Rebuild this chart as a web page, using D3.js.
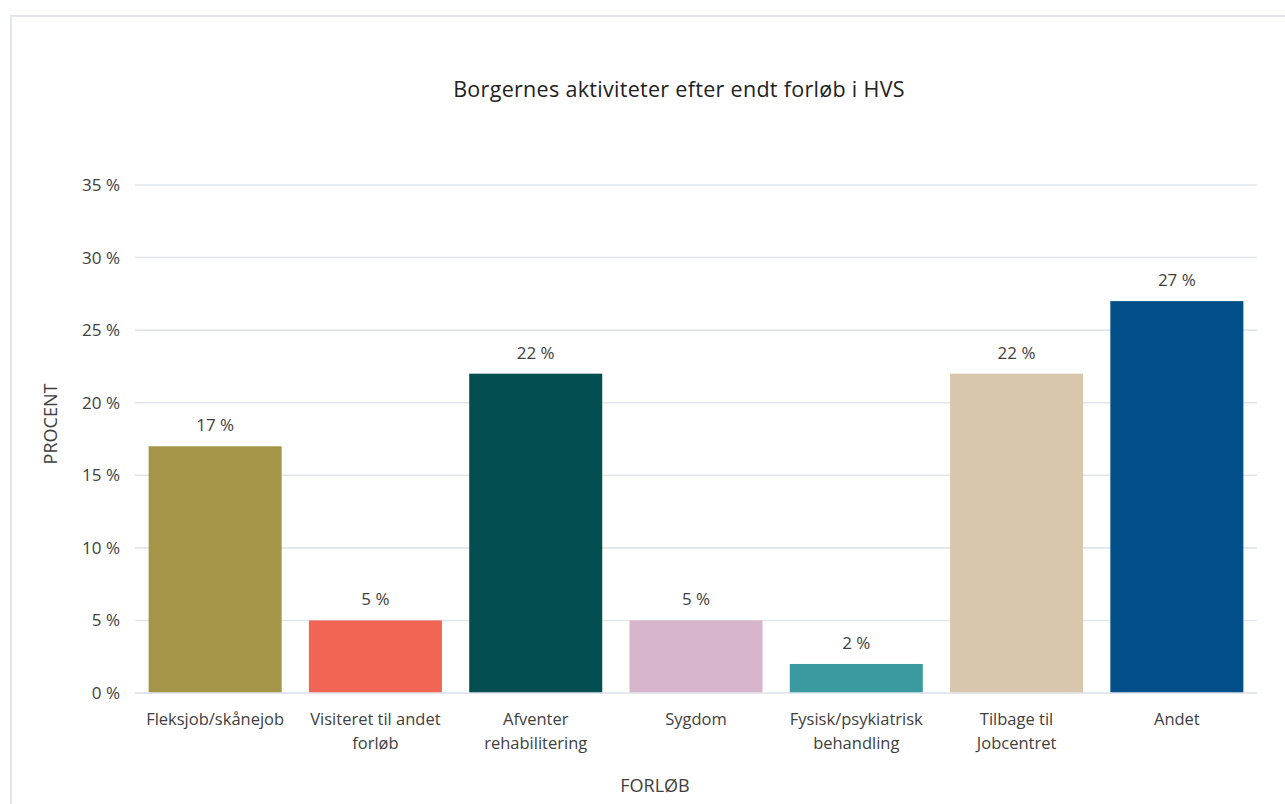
<!DOCTYPE html>
<html>
<head>
<meta charset="utf-8">
<script src="https://cdn.jsdelivr.net/npm/d3@7"></script>
<style>
  html, body { margin: 0; padding: 0; background: #ffffff; }
  svg { display: block; font-family: "Open Sans", "Noto Sans", sans-serif; }
</style>
</head>
<body>
<svg id="chart" width="1285" height="804"></svg>
<script>
const title = "Borgernes aktiviteter efter endt forløb i HVS";
const categories = [
  ["Fleksjob/skånejob"],
  ["Visiteret til andet", "forløb"],
  ["Afventer", "rehabilitering"],
  ["Sygdom"],
  ["Fysisk/psykiatrisk", "behandling"],
  ["Tilbage til", "Jobcentret"],
  ["Andet"]
];
const values = [17, 5, 22, 5, 2, 22, 27];
const colors = ["#a59548", "#f26555", "#034e50", "#d7b6cb", "#3a9aa0", "#d8c7ac", "#034f8a"];
const yTicks = [0, 5, 10, 15, 20, 25, 30, 35];
const yAxisTitle = "PROCENT";
const xAxisTitle = "FORLØB";

const svg = d3.select("#chart");
const W = 1285, H = 804;
const plot = { left: 135, right: 1257, top: 185, bottom: 693 };

// frame
svg.append("rect")
  .attr("x", 11).attr("y", 16)
  .attr("width", W + 20).attr("height", H + 20)
  .attr("fill", "#ffffff")
  .attr("stroke", "#e3e6ee").attr("stroke-width", 2);

const keys = categories.map((c, i) => i);
const x = d3.scaleBand().domain(keys)
  .range([plot.left, plot.right])
  .paddingInner(0.17).paddingOuter(0.085);
const y = d3.scaleLinear().domain([0, 35]).range([plot.bottom, plot.top]);

// gridlines
svg.append("g").selectAll("line").data(yTicks).join("line")
  .attr("x1", plot.left).attr("x2", plot.right)
  .attr("y1", d => y(d)).attr("y2", d => y(d))
  .attr("stroke", "#e2e6ec").attr("stroke-width", 1.6);

// y tick labels
svg.append("g").selectAll("text").data(yTicks).join("text")
  .attr("x", 120).attr("y", d => y(d))
  .attr("dy", "0.35em")
  .attr("text-anchor", "end")
  .attr("font-size", 17).attr("fill", "#404040")
  .text(d => d + " %");

// bars
svg.append("g").selectAll("rect").data(values).join("rect")
  .attr("x", (d, i) => x(i))
  .attr("width", x.bandwidth())
  .attr("y", d => y(d))
  .attr("height", d => y(0) - y(d))
  .attr("fill", (d, i) => colors[i]);

// baseline redraw over bars
svg.append("line")
  .attr("x1", plot.left).attr("x2", plot.right)
  .attr("y1", y(0)).attr("y2", y(0))
  .attr("stroke", "#e2e6ec").attr("stroke-width", 1.6);

// value labels
svg.append("g").selectAll("text").data(values).join("text")
  .attr("x", (d, i) => x(i) + x.bandwidth() / 2)
  .attr("y", d => y(d) - 15)
  .attr("text-anchor", "middle")
  .attr("font-size", 17).attr("fill", "#404040")
  .text(d => d + " %");

// category labels
const cat = svg.append("g").selectAll("text").data(categories).join("text")
  .attr("x", (d, i) => x(i) + x.bandwidth() / 2)
  .attr("y", 725)
  .attr("text-anchor", "middle")
  .attr("font-size", 16.5).attr("fill", "#404040");
cat.selectAll("tspan").data(d => d).join("tspan")
  .attr("x", function() { return d3.select(this.parentNode).attr("x"); })
  .attr("dy", (d, j) => j === 0 ? 0 : 24)
  .text(d => d);

// title
svg.append("text")
  .attr("x", 679).attr("y", 97)
  .attr("text-anchor", "middle")
  .attr("font-size", 21.5).attr("fill", "#222")
  .attr("letter-spacing", 0.3)
  .text(title);

// axis titles
svg.append("text")
  .attr("transform", "translate(57,424) rotate(-90)")
  .attr("text-anchor", "middle")
  .attr("font-size", 18).attr("fill", "#404040")
  .text(yAxisTitle);

svg.append("text")
  .attr("x", 655).attr("y", 792)
  .attr("text-anchor", "middle")
  .attr("font-size", 18).attr("fill", "#404040")
  .text(xAxisTitle);
</script>
</body>
</html>
